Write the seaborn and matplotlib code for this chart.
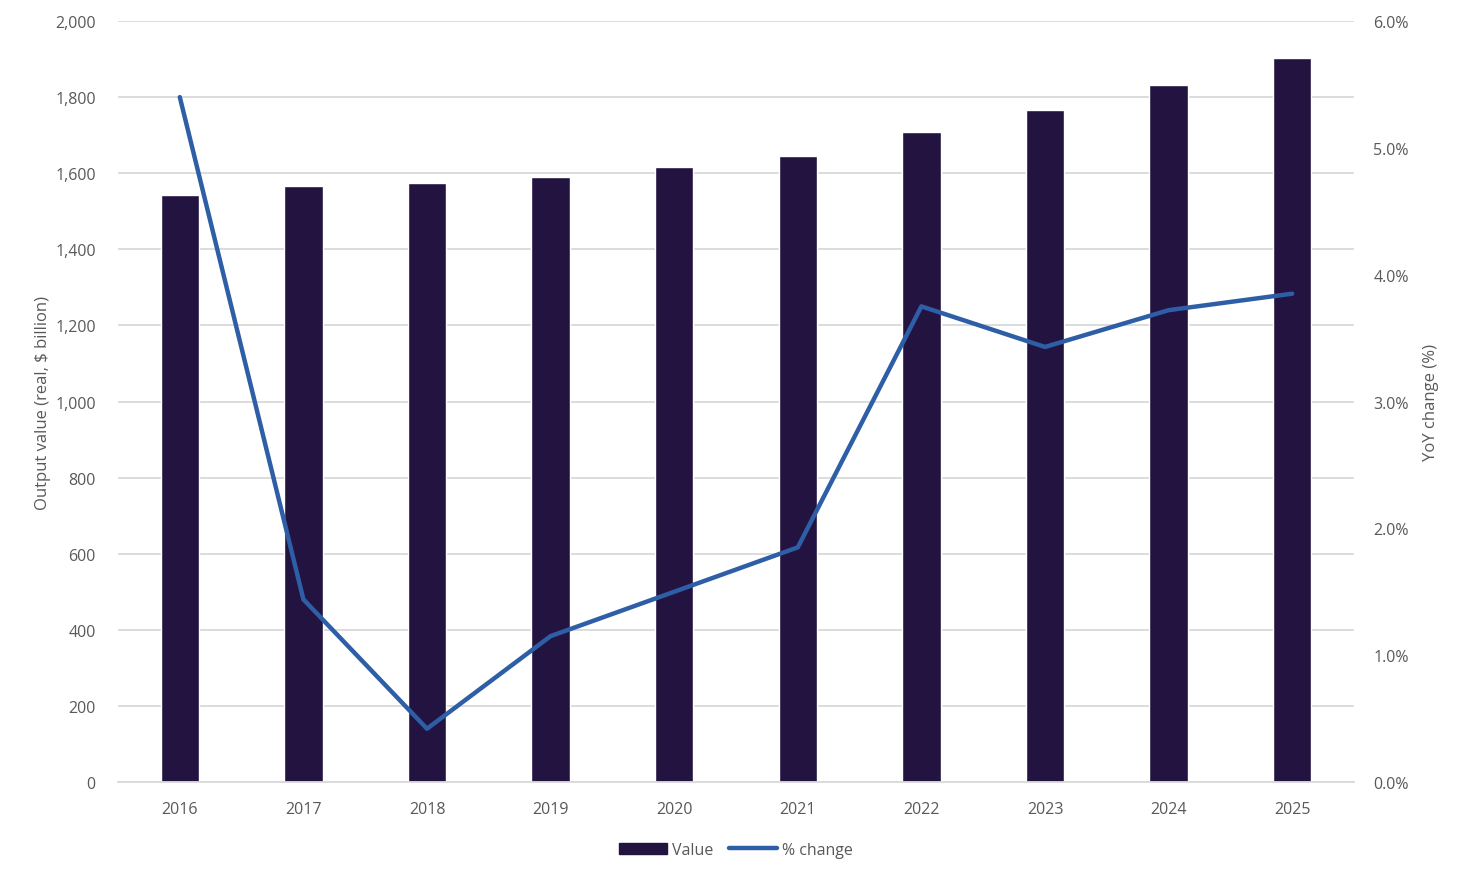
import matplotlib
matplotlib.use("Agg")
import matplotlib.pyplot as plt
import matplotlib.ticker as mticker
import pandas as pd
import seaborn as sns
from matplotlib.lines import Line2D
from matplotlib.patches import Patch

YEARS = ["2016", "2017", "2018", "2019", "2020", "2021", "2022", "2023", "2024", "2025"]
VALUES = [1544, 1567, 1573, 1591, 1615, 1644, 1707, 1765, 1831, 1902]
PCT_CHANGE = [5.40, 1.44, 0.42, 1.15, 1.50, 1.85, 3.75, 3.43, 3.72, 3.85]

BAR_COLOR = "#221340"
LINE_COLOR = "#2E5EA5"
TEXT_COLOR = "#595959"
GRID_COLOR = "#D9D9D9"


def main() -> None:
    sns.set_theme(style="white")
    plt.rcParams["font.family"] = ["Open Sans", "DejaVu Sans"]

    df = pd.DataFrame({"year": YEARS, "value": VALUES, "pct": PCT_CHANGE})

    fig = plt.figure(figsize=(14.66, 8.79), dpi=100)
    ax = fig.add_axes([118 / 1466, 1 - 783 / 879, (1354 - 118) / 1466, (783 - 22) / 879])

    sns.barplot(data=df, x="year", y="value", color=BAR_COLOR, width=0.31,
                saturation=1, ax=ax, zorder=2)
    ax.set_ylim(0, 2000)
    ax.set_xlim(-0.5, len(YEARS) - 0.5)
    ax.yaxis.set_major_locator(mticker.MultipleLocator(200))
    ax.yaxis.set_major_formatter(mticker.FuncFormatter(lambda v, _: f"{v:,.0f}"))
    ax.grid(axis="y", color=GRID_COLOR, linewidth=1.3, zorder=0)
    ax.set_axisbelow(True)
    ax.set_xlabel("")
    ax.set_ylabel("Output value (real, $ billion)", color=TEXT_COLOR, fontsize=12, labelpad=3)
    for s in ["top", "right", "left"]:
        ax.spines[s].set_visible(False)
    ax.spines["bottom"].set_color(GRID_COLOR)
    ax.spines["bottom"].set_linewidth(1.3)
    ax.tick_params(axis="x", colors=TEXT_COLOR, labelsize=11.5, length=0, pad=14)
    ax.tick_params(axis="y", colors=TEXT_COLOR, labelsize=11.5, length=0, pad=16)

    ax2 = ax.twinx()
    sns.lineplot(x=list(range(len(YEARS))), y=PCT_CHANGE, color=LINE_COLOR,
                 linewidth=3.2, ax=ax2, zorder=3)
    ax2.set_ylim(0, 6)
    ax2.yaxis.set_major_locator(mticker.MultipleLocator(1))
    ax2.yaxis.set_major_formatter(mticker.FuncFormatter(lambda v, _: f"{v:.1f}%"))
    ax2.set_ylabel("YoY change (%)", color=TEXT_COLOR, fontsize=12, labelpad=10)
    for s in ax2.spines.values():
        s.set_visible(False)
    ax2.tick_params(axis="y", colors=TEXT_COLOR, labelsize=11.5, length=0, pad=14)
    ax2.grid(False)

    handles = [
        Patch(facecolor=BAR_COLOR, edgecolor=BAR_COLOR),
        Line2D([0], [0], color=LINE_COLOR, linewidth=3.2),
    ]
    fig.legend(handles, ["Value", "% change"], loc="center", bbox_to_anchor=(736 / 1466, 1 - 851 / 879),
               ncol=2, frameon=False, fontsize=11.5, labelcolor=TEXT_COLOR,
               handlelength=3.0, handletextpad=0.3, columnspacing=1.0)

    fig.savefig("out.png", dpi=100)
    plt.close(fig)


if __name__ == "__main__":
    main()
